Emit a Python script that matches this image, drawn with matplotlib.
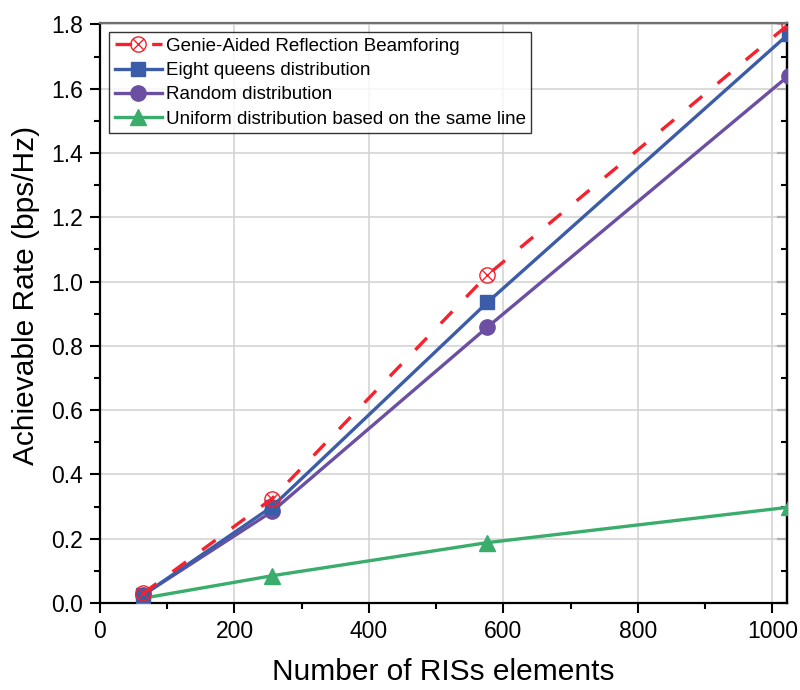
import numpy as np
import matplotlib
matplotlib.use('Agg')
import matplotlib.pyplot as plt
from matplotlib.path import Path
from matplotlib.ticker import MultipleLocator, FormatStrFormatter

plt.rcParams['font.family'] = ['Liberation Sans', 'DejaVu Sans']

# data
n_elements = [64, 256, 576, 1024]
genie = [0.03, 0.325, 1.02, 1.80]
eight_queens = [0.025, 0.30, 0.935, 1.77]
random_dist = [0.025, 0.285, 0.858, 1.64]
uniform_line = [0.015, 0.085, 0.188, 0.298]

# circle with a cross inside, for the genie marker
circ = Path.unit_circle()
d = 0.707
cross = Path([(-d, -d), (d, d), (-d, d), (d, -d)],
             [Path.MOVETO, Path.LINETO, Path.MOVETO, Path.LINETO])
circ_x = Path.make_compound_path(circ, cross)

fig = plt.figure(figsize=(8, 6.9), dpi=100)
ax = fig.add_axes([0.125, 0.126, 0.859, 0.841])

lw = 2.4
ax.plot(n_elements, genie, color='#f5222d', lw=lw, ls=(0, (5, 6)),
        dash_capstyle='butt', marker=circ_x, ms=11, mfc='none',
        mec='#f5222d', mew=1.0,
        label='Genie-Aided Reflection Beamforing', zorder=5)
ax.plot(n_elements, eight_queens, color='#3b5ca8', lw=lw, marker='s', ms=9.5,
        label='Eight queens distribution', zorder=4)
ax.plot(n_elements, random_dist, color='#6a4fa2', lw=lw, marker='o', ms=11,
        label='Random distribution', zorder=3)
ax.plot(n_elements, uniform_line, color='#3aad6c', lw=lw, marker='^', ms=11,
        label='Uniform distribution based on the same line', zorder=3)

ax.set_xlim(0, 1022)
ax.set_ylim(0, 1.805)
ax.xaxis.set_major_locator(MultipleLocator(200))
ax.xaxis.set_minor_locator(MultipleLocator(100))
ax.yaxis.set_major_locator(MultipleLocator(0.2))
ax.yaxis.set_minor_locator(MultipleLocator(0.1))
ax.yaxis.set_major_formatter(FormatStrFormatter('%.1f'))

ax.grid(True, which='major', color='#d4d4d4', lw=1.2)
ax.set_axisbelow(True)

for s in ['left', 'bottom', 'right']:
    ax.spines[s].set_linewidth(1.6)
    ax.spines[s].set_color('black')
ax.spines['top'].set_color('#707070')
ax.spines['top'].set_linewidth(1.6)

ax.tick_params(which='major', direction='out', length=7, width=1.5,
               labelsize=16.5, pad=5)
ax.tick_params(which='minor', direction='out', length=4, width=1.5)

# right side ticks point inward, no labels
ax2 = ax.secondary_yaxis('right')
ax2.yaxis.set_major_locator(MultipleLocator(0.2))
ax2.yaxis.set_minor_locator(MultipleLocator(0.1))
ax2.tick_params(which='major', direction='in', length=7, width=1.5, labelright=False)
ax2.tick_params(which='minor', direction='in', length=4, width=1.5)
ax2.spines['right'].set_linewidth(1.6)

ax.set_xlabel('Number of RISs elements', fontsize=21.5, labelpad=11)
ax.set_ylabel('Achievable Rate (bps/Hz)', fontsize=21.5)
ax.yaxis.set_label_coords(-0.087, 0.53)

leg = ax.legend(loc='upper left', fontsize=13.5, frameon=True, fancybox=False,
                edgecolor='black', handlelength=2.5, handletextpad=0.2,
                borderpad=0.3, labelspacing=0.38, borderaxespad=0.5)
leg.get_frame().set_linewidth(1.0)

fig.savefig('out.png', dpi=100)
